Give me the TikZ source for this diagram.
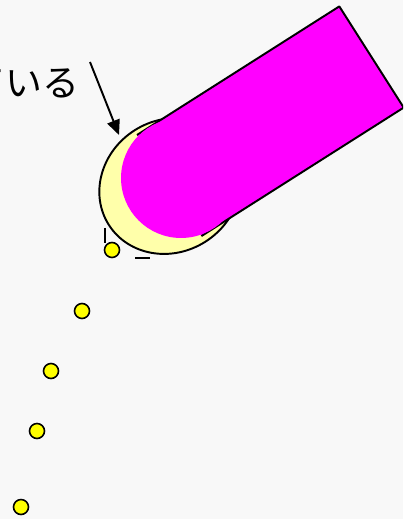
\documentclass[tikz,border=0pt]{standalone}
\usepackage{fontspec}
\newfontfamily\jpfont{Noto Sans CJK JP}
\usepackage{tikz}
\usetikzlibrary{arrows.meta}
\definecolor{paper}{RGB}{248,248,248}
\definecolor{penpink}{RGB}{255,0,255}
\definecolor{palecap}{RGB}{255,255,170}
\definecolor{dotyellow}{RGB}{255,255,0}

\begin{document}
\begin{tikzpicture}[x=0.02cm, y=-0.02cm,
        >=Stealth,
        dot/.style={circle, draw=black, fill=dotyellow, line width=0.9pt,
                    minimum size=0.3cm, inner sep=0pt},
        arr/.style={-{Triangle[length=0.3cm, width=0.26cm]}, line width=1.1pt},
        lbl/.style={font=\jpfont\fontsize{21pt}{21pt}\selectfont, inner sep=0pt},
        edge/.style={line width=1.1pt, line join=round},
    ]

    % ---- Paper and frame ----
    \fill[paper] (0,0) rectangle (403,519);
    \useasboundingbox (0,0) rectangle (403,519);
    \clip (0,0) rectangle (403,519);

    % ---- Pale cap behind the pen ----
    \filldraw[palecap, draw=black, edge, rotate around={32.5:(170,186)}]
        (170,186) ellipse [x radius=1.45cm, y radius=1.32cm];

    % ---- Pen body ----
    \fill[penpink] (137,135) -- (339.3,6.4) -- (403.7,107.6) -- (201.4,236.1) -- cycle;
    \draw[edge] (137,135) -- (339.3,6.4) -- (403.7,107.6) -- (201.4,236.1);
    \fill[penpink] (181,178) circle [radius=1.2cm];

    % ---- Small marks ----
    \draw[line width=1.1pt] (105,228) -- (105,243);
    \draw[line width=1.1pt] (135,258) -- (150,258);

    % ---- Dots ----
    \node[dot] (d1) at (112,250) {};
    \node[dot] (d2) at (82,311) {};
    \node[dot] (d3) at (51,371) {};
    \node[dot] (d4) at (37,431) {};
    \node[dot] (d5) at (21,507) {};

    % ---- Label and arrow ----
    \node[lbl, anchor=east] (note) at (80,83) {ている};
    \coordinate (tail) at (90,62);
    \coordinate (tip) at (119,135);
    \draw[arr] (tail) -- (tip);

\end{tikzpicture}
\end{document}
